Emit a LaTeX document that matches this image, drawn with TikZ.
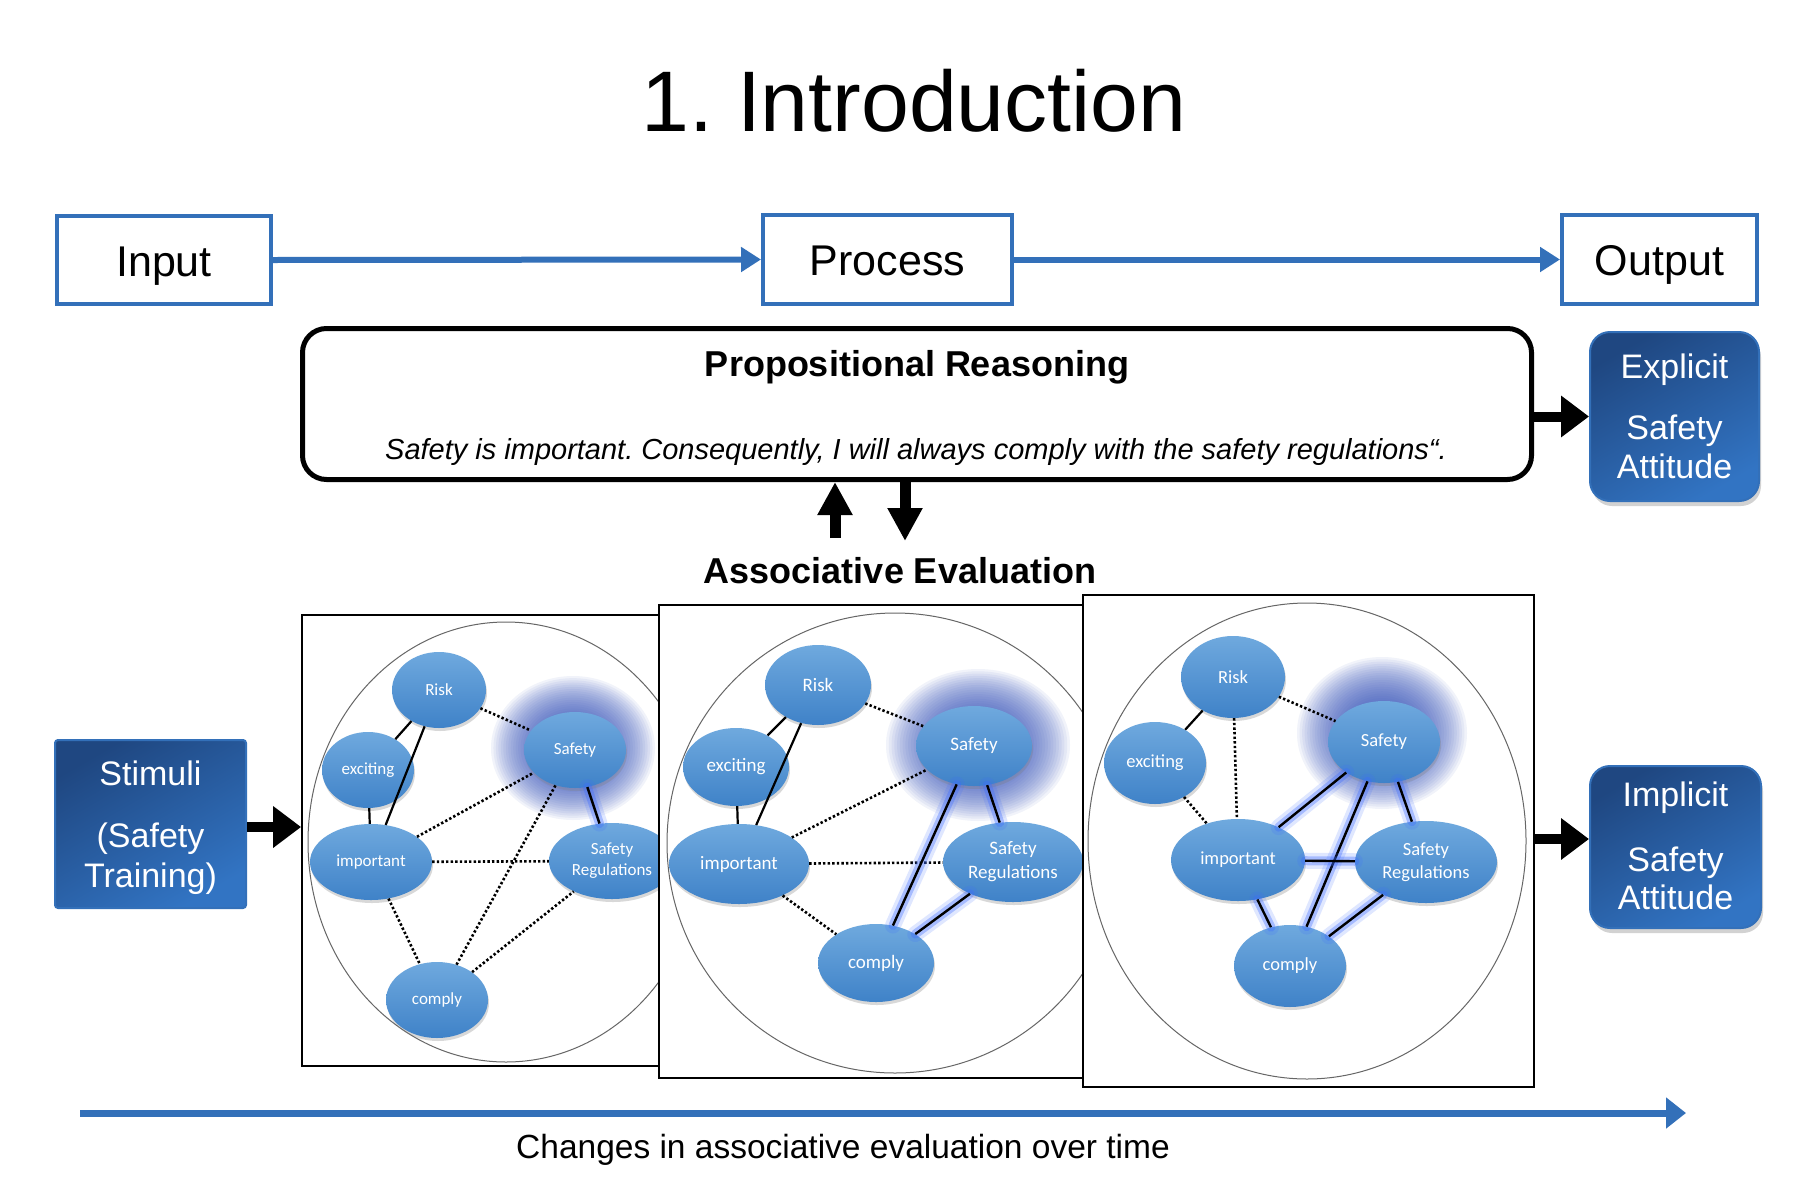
\documentclass[tikz,border=0pt]{standalone}
\usepackage{fontspec}
\setmainfont{Liberation Sans}
\newfontfamily\carl{Carlito}
\usetikzlibrary{arrows.meta,shapes.geometric,shadows}
\definecolor{bblue}{HTML}{3370B9}
\definecolor{bdark}{HTML}{1F4781}
\definecolor{blight}{HTML}{3274C3}
\definecolor{ntop}{HTML}{6FA9DE}
\definecolor{nbot}{HTML}{3F82C8}
\definecolor{halocol}{HTML}{3A58BE}
\definecolor{glow}{HTML}{3D6BFF}
\newcommand\fs[2]{\fontsize{#1}{#2}\selectfont}
\newcommand\halo[3]{%
  \foreach \s in {1,0.97,...,0.4} {\fill[halocol, opacity=0.07] #1 ellipse ({#2*\s} and {#3*\s});}}
\begin{document}
\frenchspacing
\begin{tikzpicture}[x=1pt,y=-1pt,
  topbox/.style={draw=bblue, line width=4, fill=white, inner sep=0, text height=32pt, text depth=0pt, font=\fs{43}{50}},
  bluearrow/.style={draw=bblue, line width=6, -{Triangle[length=20pt,width=24pt]}},
  timearrow/.style={draw=bblue, line width=7, -{Triangle[length=20pt,width=30pt]}},
  blockarrow/.style={line width=10, -{Triangle[length=28pt,width=40pt]}},
  udarrow/.style={line width=11, -{Triangle[length=33pt,width=33pt]}},
  attbox/.style={draw=bblue, line width=2, top color=bdark, bottom color=blight, shading angle=30, rounded corners=20, drop shadow={opacity=0.35, shadow xshift=2pt, shadow yshift=-5pt}},
  stimbox/.style={draw=bblue, line width=2, top color=bdark, bottom color=blight, shading angle=30, rounded corners=3},
  wt/.style={text=white, font=\fs{34}{40}, anchor=base, inner sep=0},
  panel/.style={draw=black, line width=1.8, fill=white, inner sep=0},
  pcirc/.style={draw=black!60, line width=1},
  nd/.style={ellipse, inner sep=0, top color=ntop, bottom color=nbot, text=white, align=center, drop shadow={opacity=0.3, shadow xshift=1pt, shadow yshift=-3pt}},
  sl/.style={line width=2.2},
  dt/.style={line width=2.6, dash pattern=on 2.4pt off 2.2pt},
  gl/.style={line width=2.4, preaction={draw=glow, line width=16, opacity=0.16, line cap=round}, preaction={draw=glow, line width=9, opacity=0.35, line cap=round}},
]
\useasboundingbox (0,0) rectangle (1798,1194);
\fill[white] (0,0) rectangle (1798,1194);

% title
\node[font=\fs{86}{100}, anchor=base] (title) at (914,131) {1. Introduction};

% top row
\node[topbox, minimum width=214, minimum height=88] (in) at (164,260) {Input};
\node[topbox, minimum width=249, minimum height=89] (pr) at (887.5,259.5) {Process};
\node[topbox, minimum width=195, minimum height=89] (out) at (1659.5,259.5) {Output};
\draw[bluearrow] (in.east) -- (pr.west);
\draw[bluearrow] (pr.east) -- (out.west);

% propositional reasoning
\node[draw, line width=5, rounded corners=24, minimum width=1229, minimum height=151] (prop) at (917,404) {};
\node[font=\bfseries\fs{36}{42}, anchor=base] (propt) at (917,376) {Propositional Reasoning};
\node[font=\itshape\fs{29}{34}, anchor=base] (props) at (916,459) {Safety is important. Consequently, I will always comply with the safety regulations“.};

% explicit
\node[attbox, minimum width=169, minimum height=169] (ex) at (1674.5,416.5) {};
\node[wt] at (1674.5,378) {Explicit};
\node[wt] at (1674.5,439) {Safety};
\node[wt] at (1674.5,478) {Attitude};
\draw[blockarrow] (ex.west -| prop.east) -- (ex.west);

% associative evaluation
\node[font=\bfseries\fs{36}{44}, anchor=base] (ae) at (900,583) {Associative Evaluation};
\coordinate (upb) at (835,538);
\coordinate (dnx) at (905,541);
\draw[udarrow] (upb) -- (upb |- prop.south);
\draw[udarrow] (dnx |- prop.south) -- (dnx);

% stimuli
\node[stimbox, minimum width=191, minimum height=168] (st) at (150.5,824) {};
\node[wt] at (150.5,785) {Stimuli};
\node[wt] at (150.5,847) {(Safety};
\node[wt] at (150.5,887) {Training)};

% ---------------- panel 1
\node[panel, minimum width=398, minimum height=451] (p1) at (501,840.5) {};
\draw[blockarrow] (st.east |- 0,827) -- (p1.west |- 0,827);
\draw[pcirc] (506,842) ellipse (198 and 220);
\halo{(573,748)}{82}{72}
\begin{scope}[every node/.append style={font=\carl\fs{17}{21}}]
\node[nd, minimum width=94, minimum height=76] (a-risk) at (439,690) {Risk};
\node[nd, minimum width=92, minimum height=76] (a-exc) at (368,770) {exciting};
\node[nd, minimum width=122, minimum height=76] (a-imp) at (371,862) {important};
\node[nd, minimum width=102, minimum height=76] (a-saf) at (575,750) {Safety};
\node[nd, minimum width=126, minimum height=76] (a-reg) at (612,861) {Safety\\Regulations};
\node[nd, minimum width=102, minimum height=76] (a-com) at (437,1000) {comply};
\end{scope}
\draw[sl] (a-risk) -- (a-exc);
\draw[sl] (a-exc) -- (a-imp);
\draw[sl] (a-risk) -- (a-imp);
\draw[dt] (a-risk) -- (a-saf);
\draw[dt] (a-imp) -- (a-saf);
\draw[dt] (a-imp) -- (a-reg);
\draw[dt] (a-imp) -- (a-com);
\draw[dt] (a-com) -- (a-saf);
\draw[dt] (a-com) -- (a-reg);
\draw[gl] (a-saf) -- (a-reg);

% ---------------- panel 2
\node[panel, minimum width=441, minimum height=473] (p2) at (879.5,841.5) {};
\draw[pcirc] (895,843) ellipse (228 and 230);
\halo{(978,745)}{92}{76}
\begin{scope}[every node/.append style={font=\carl\fs{19}{24}}]
\node[nd, minimum width=106, minimum height=80] (b-risk) at (818,685) {Risk};
\node[nd, minimum width=106, minimum height=78] (b-exc) at (736,767) {exciting};
\node[nd, minimum width=140, minimum height=80] (b-imp) at (739,864) {important};
\node[nd, minimum width=116, minimum height=80] (b-saf) at (974,746) {Safety};
\node[nd, minimum width=140, minimum height=80] (b-reg) at (1013,862) {Safety\\Regulations};
\node[nd, minimum width=116, minimum height=78] (b-com) at (876,963) {comply};
\end{scope}
\draw[sl] (b-risk) -- (b-exc);
\draw[sl] (b-exc) -- (b-imp);
\draw[sl] (b-risk) -- (b-imp);
\draw[dt] (b-risk) -- (b-saf);
\draw[dt] (b-imp) -- (b-saf);
\draw[dt] (b-imp) -- (b-reg);
\draw[dt] (b-imp) -- (b-com);
\draw[gl] (b-saf) -- (b-com);
\draw[gl] (b-saf) -- (b-reg);
\draw[gl] (b-reg) -- (b-com);

% ---------------- panel 3
\node[panel, minimum width=451, minimum height=492] (p3) at (1308.5,841) {};
\draw[pcirc] (1307,841) ellipse (219 and 238);
\halo{(1382,733)}{85}{76}
\begin{scope}[every node/.append style={font=\carl\fs{18.5}{23}}]
\node[nd, minimum width=104, minimum height=82] (c-risk) at (1233,677) {Risk};
\node[nd, minimum width=102, minimum height=82] (c-exc) at (1155,763) {exciting};
\node[nd, minimum width=134, minimum height=82] (c-imp) at (1238,860) {important};
\node[nd, minimum width=112, minimum height=82] (c-saf) at (1384,742) {Safety};
\node[nd, minimum width=142, minimum height=82] (c-reg) at (1426,862) {Safety\\Regulations};
\node[nd, minimum width=112, minimum height=82] (c-com) at (1290,966) {comply};
\end{scope}
\draw[sl] (c-risk) -- (c-exc);
\draw[dt] (c-risk) -- (c-imp);
\draw[dt] (c-exc) -- (c-imp);
\draw[dt] (c-risk) -- (c-saf);
\draw[gl] (c-imp) -- (c-saf);
\draw[gl] (c-saf) -- (c-com);
\draw[gl] (c-saf) -- (c-reg);
\draw[gl] (c-imp) -- (c-reg);
\draw[gl] (c-imp) -- (c-com);
\draw[gl] (c-reg) -- (c-com);

% implicit
\node[attbox, minimum width=171, minimum height=162] (im) at (1675.5,847) {};
\node[wt] at (1675.5,806) {Implicit};
\node[wt] at (1675.5,871) {Safety};
\node[wt] at (1675.5,909) {Attitude};
\path ([yshift=8pt]im.west) coordinate (imin);
\draw[blockarrow] (imin -| p3.east) -- (imin);

% time arrow
\coordinate (t0) at (80,1113);
\coordinate (t1) at (1686,1113);
\draw[timearrow] (t0) -- (t1);
\node[font=\fs{33.5}{40}, anchor=base] (tl) at (843,1158) {Changes in associative evaluation over time};
\end{tikzpicture}
\end{document}
